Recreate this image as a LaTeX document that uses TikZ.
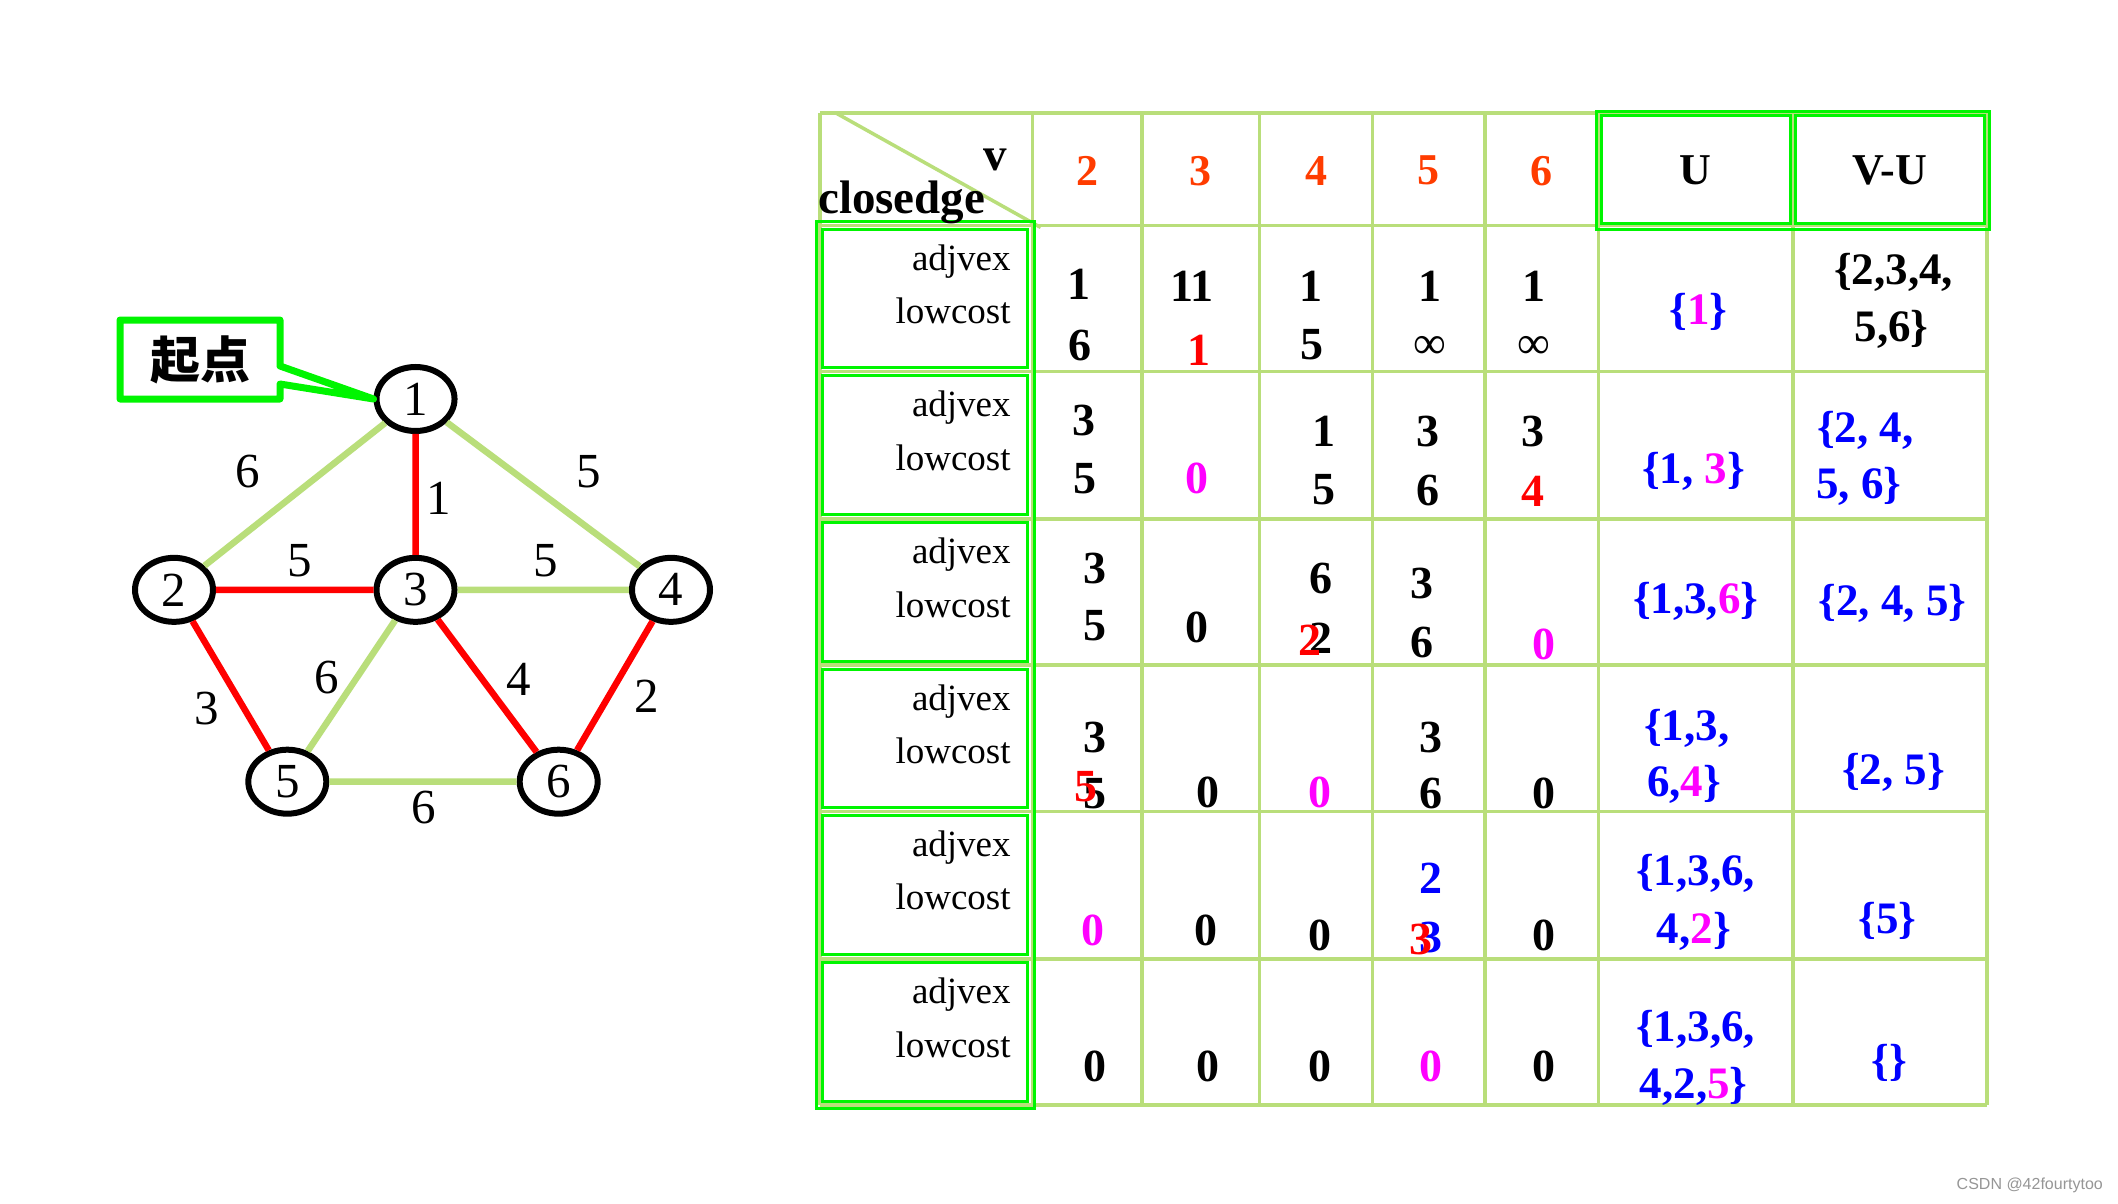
\documentclass[tikz,border=0pt]{standalone}
\usepackage{fontspec}
\setmainfont{Liberation Serif}
\newfontfamily\cjkfont{Noto Sans CJK SC}
\newfontfamily\wmfont{Liberation Sans}
\usetikzlibrary{shapes.geometric}
\definecolor{lgreen}{RGB}{185,222,122}
\definecolor{bgreen}{RGB}{0,245,0}
\definecolor{rd}{RGB}{255,0,0}
\definecolor{hdrc}{RGB}{255,60,0}
\definecolor{mag}{RGB}{255,0,255}
\definecolor{blu}{RGB}{0,0,255}
\definecolor{wmgray}{RGB}{150,150,150}
\tikzset{
 vtx/.style={ellipse, draw=black, line width=6pt, minimum width=78pt, minimum height=64pt, inner sep=0pt, font=\fontsize{49}{49}\selectfont},
 gedge/.style={line width=6.5pt, draw=lgreen},
 redge/.style={line width=6.5pt, draw=rd},
 elab/.style={inner sep=0pt, font=\fontsize{49}{49}\selectfont},
 tgrid/.style={line width=3.5pt, draw=lgreen},
 bgrid/.style={line width=3pt, draw=bgreen},
 dig/.style={inner sep=0pt, font=\fontsize{46}{46}\selectfont\bfseries},
 hdr/.style={inner sep=0pt, font=\fontsize{44}{44}\selectfont\bfseries},
 lab/.style={inner sep=0pt, anchor=base east, font=\fontsize{37}{37}\selectfont},
 setx/.style={inner sep=0pt, font=\fontsize{45}{45}\selectfont\bfseries, text=blu},
 inft/.style={inner sep=0pt, font=\fontsize{46}{46}\selectfont},
}
\begin{document}
\begin{tikzpicture}[x=1pt,y=-1pt]
\useasboundingbox (0,0) rectangle (2118,1204);
\fill[white] (0,0) rectangle (2118,1204);

% ---------- graph ----------
\begin{scope}[shift={(174,398)}, xscale=0.994, yscale=0.994, shift={(-174,-400)}]
\node[vtx] (n1) at (417,401) {1};
\node[vtx] (n2) at (174,593) {2};
\node[vtx] (n3) at (417,593) {3};
\node[vtx] (n4) at (674,593) {4};
\node[vtx] (n5) at (288,786) {5};
\node[vtx] (n6) at (561,786) {6};

\draw[gedge] (n1) -- (n2);
\draw[gedge] (n1) -- (n4);
\draw[gedge] (n3) -- (n4);
\draw[gedge] (n3) -- (n5);
\draw[gedge] (n5) -- (n6);
\draw[redge] (n1) -- (n3);
\draw[redge] (n2) -- (n3);
\draw[redge] (n2) -- (n5);
\draw[redge] (n3) -- (n6);
\draw[redge] (n4) -- (n6);

\node[elab] (l12) at (248,474) {6};
\node[elab] (l13) at (440,501) {1};
\node[elab] (l14) at (591,474) {5};
\node[elab] (l23) at (301,564) {5};
\node[elab] (l34) at (548,564) {5};
\node[elab] (l25) at (207,712) {3};
\node[elab] (l35) at (328,681) {6};
\node[elab] (l36) at (521,683) {4};
\node[elab] (l46) at (650,700) {2};
\node[elab] (l56) at (425,812) {6};
\end{scope}

% callout
\draw[line width=7pt, draw=bgreen, fill=white, line join=round]
  (120,320) -- (280,320) -- (280,366) -- (n1.west) -- (280,384) -- (280,399) -- (120,399) -- cycle;
\node[inner sep=0pt, font=\cjkfont\bfseries\fontsize{50}{50}\selectfont] (qd) at (200,360) {起点};

\begin{scope}[shift={(820,113)}, xscale=0.994, yscale=0.995, shift={(-820,-113)}]
% ---------- table grid ----------
\foreach \x in {820,1034,1144,1262,1376,1489,1603,1799,1994}
  \draw[tgrid] (\x,113) -- (\x,1110);
\foreach \y in {113,226,373,521,668,815,963,1110}
  \draw[tgrid] (820,\y) -- (1994,\y);
\draw[tgrid] (836,113) -- (1042,228);

% bright green frames
\draw[bgrid] (816,222) rectangle (1036,1113);
\foreach \t/\b in {226/373,373/521,521/668,668/815,815/963,963/1110}
  \draw[bgrid] (823,\t+4) rectangle (1029,\b-4);
\draw[bgrid] (1601,111) rectangle (1997,230);
\draw[bgrid] (1606,116) rectangle (1796,224);
\draw[bgrid] (1801,116) rectangle (1992,224);

% ---------- header ----------
\node[inner sep=0pt, anchor=base west, font=\fontsize{47}{47}\selectfont\bfseries] (cl) at (818,214) {closedge};
\node[inner sep=0pt, anchor=base, font=\fontsize{47}{47}\selectfont\bfseries] (vv) at (996,171) {v};
\node[hdr, text=hdrc] (h2) at (1089,171) {2};
\node[hdr, text=hdrc] (h3) at (1203,171) {3};
\node[hdr, text=hdrc] (h4) at (1319,171) {4};
\node[hdr, text=hdrc] (h5) at (1432,171) {5};
\node[hdr, text=hdrc] (h6) at (1546,171) {6};
\node[hdr] (hu) at (1701,171) {U};
\node[hdr] (hvu) at (1896,171) {V-U};

% row labels
\foreach \t [count=\i] in {226,373,521,668,815,963} {
  \node[lab] (adj\i) at (1012,\t+45) {adjvex};
  \node[lab] (low\i) at (1012,\t+99) {lowcost};
}

% ---------- row 1 ----------
\node[dig] (r1c2a) at (1081,285) {1};
\node[dig] (r1c2b) at (1082,347) {6};
\node[dig] (r1c3a) at (1194,287) {11};
\node[dig, text=rd] (r1c3b) at (1201,352) {1};
\node[dig] (r1c4a) at (1314,287) {1};
\node[dig] (r1c4b) at (1315,346) {5};
\node[dig] (r1c5a) at (1434,287) {1};
\node[inft] (r1c5b) at (1434,349) {∞};
\node[dig] (r1c6a) at (1538,287) {1};
\node[inft] (r1c6b) at (1538,349) {∞};
\node[setx] (r1u) at (1704,313) {\{\textcolor{mag}{1}\}};
\node[setx, text=black] (r1va) at (1900,273) {\{2,3,4,};
\node[setx, text=black] (r1vb) at (1898,330) {5,6\}};

% ---------- row 2 ----------
\node[dig] (r2c2a) at (1086,422) {3};
\node[dig] (r2c2b) at (1087,480) {5};
\node[dig, text=mag] (r2c3b) at (1199,480) {0};
\node[dig] (r2c4a) at (1327,433) {1};
\node[dig] (r2c4b) at (1327,492) {5};
\node[dig] (r2c5a) at (1432,433) {3};
\node[dig] (r2c5b) at (1432,492) {6};
\node[dig] (r2c6a) at (1537,433) {3};
\node[dig, text=rd] (r2c6b) at (1537,493) {4};
\node[setx] (r2u) at (1699,473) {\{1, \textcolor{mag}{3}\}};
\node[setx, anchor=west] (r2va) at (1823,432) {\{2, 4,};
\node[setx, anchor=west] (r2vb) at (1822,488) {5, 6\}};

% ---------- row 3 ----------
\node[dig] (r3c2a) at (1097,571) {3};
\node[dig] (r3c2b) at (1097,628) {5};
\node[dig] (r3c3b) at (1199,630) {0};
\node[dig] (r3c4a) at (1324,581) {6};
\node[dig] (r3c4b) at (1324,641) {2};
\node[dig, text=rd] (r3c4r) at (1313,643) {2};
\node[dig] (r3c5a) at (1426,586) {3};
\node[dig] (r3c5b) at (1426,645) {6};
\node[dig, text=mag] (r3c6b) at (1548,647) {0};
\node[setx] (r3u) at (1701,604) {\{1,3,\textcolor{mag}{6}\}};
\node[setx] (r3v) at (1899,606) {\{2, 4, 5\}};

% ---------- row 4 ----------
\node[dig] (r4c2a) at (1097,741) {3};
\node[dig] (r4c2b) at (1097,797) {5};
\node[dig, text=rd] (r4c2r) at (1088,790) {5};
\node[dig] (r4c3b) at (1210,796) {0};
\node[dig, text=mag] (r4c4b) at (1323,796) {0};
\node[dig] (r4c5a) at (1435,741) {3};
\node[dig] (r4c5b) at (1435,797) {6};
\node[dig] (r4c6b) at (1548,797) {0};
\node[setx, anchor=west] (r4ua) at (1649,731) {\{1,3,};
\node[setx, anchor=west] (r4ub) at (1652,788) {6,\textcolor{mag}{4}\}};
\node[setx] (r4v) at (1900,776) {\{2, 5\}};

% ---------- row 5 ----------
\node[dig, text=mag] (r5c2b) at (1095,935) {0};
\node[dig] (r5c3b) at (1208,935) {0};
\node[dig] (r5c4b) at (1323,940) {0};
\node[dig, text=blu] (r5c5a) at (1435,882) {2};
\node[dig, text=blu] (r5c5b) at (1435,942) {3};
\node[dig, text=rd] (r5c5r) at (1425,944) {3};
\node[dig] (r5c6b) at (1548,940) {0};
\node[setx] (r5ua) at (1701,877) {\{1,3,6,};
\node[setx] (r5ub) at (1699,935) {4,\textcolor{mag}{2}\}};
\node[setx] (r5v) at (1894,925) {\{5\}};

% ---------- row 6 ----------
\node[dig] (r6c2b) at (1097,1071) {0};
\node[dig] (r6c3b) at (1210,1071) {0};
\node[dig] (r6c4b) at (1323,1071) {0};
\node[dig, text=mag] (r6c5b) at (1435,1071) {0};
\node[dig] (r6c6b) at (1548,1071) {0};
\node[setx] (r6ua) at (1701,1034) {\{1,3,6,};
\node[setx] (r6ub) at (1699,1091) {4,2,\textcolor{mag}{5}\}};
\node[setx] (r6v) at (1896,1068) {\{\}};
\end{scope}

% watermark
\node[inner sep=0pt, anchor=east, text=wmgray, font=\wmfont\fontsize{16}{16}\selectfont] (wm) at (2103,1185) {CSDN @42fourtytoo};
\end{tikzpicture}
\end{document}
